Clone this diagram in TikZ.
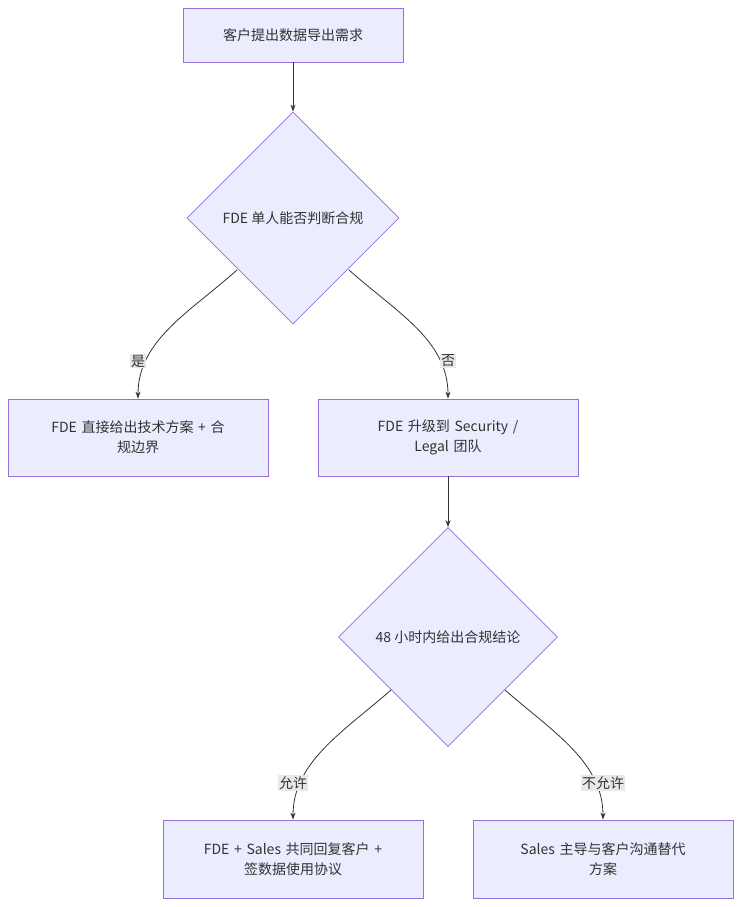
\documentclass[tikz,border=0pt]{standalone}
\usepackage{fontspec}
\setmainfont{Noto Sans CJK SC}
\usetikzlibrary{shapes.geometric,arrows.meta}
\definecolor{nfill}{HTML}{ECECFF}
\definecolor{nstroke}{HTML}{9370DB}
\definecolor{txt}{HTML}{333333}
\definecolor{lbl}{HTML}{E8E8E8}
\begin{document}
\begin{tikzpicture}[x=1pt,y=-1pt,
  every node/.style={font=\fontsize{14}{20}\selectfont,text=txt},
  box/.style={draw=nstroke,fill=nfill,line width=0.8pt,minimum width=260pt,minimum height=77pt,align=center,text width=230pt,inner sep=0pt},
  dia/.style={draw=nstroke,fill=nfill,line width=0.8pt,diamond,aspect=1,inner sep=0pt},
  edge/.style={draw=txt,line width=0.8pt,-{Stealth[length=7pt,width=5pt]}},
  lab/.style={fill=lbl,inner sep=1pt,font=\fontsize{14}{16}\selectfont}]
\useasboundingbox (0,0) rectangle (741,907);
\node[box,minimum width=220pt,minimum height=54pt,text width=200pt] (a) at (293,35) {客户提出数据导出需求};
\node[dia,minimum width=212pt,minimum height=212pt] (b) at (293,218) {FDE 单人能否判断合规};
\node[box] (c) at (138,437.5) {FDE 直接给出技术方案 + 合\\规边界};
\node[box] (d) at (448,437.5) {FDE 升级到 Security /\\Legal 团队};
\node[dia,minimum width=219pt,minimum height=219pt] (e) at (448,637) {48 小时内给出合规结论};
\node[box,minimum height=78pt] (f) at (293,859) {FDE + Sales 共同回复客户 +\\签数据使用协议};
\node[box,minimum height=78pt] (g) at (603,859) {Sales 主导与客户沟通替代\\方案};
\draw[edge] (a) -- (b);
\draw[edge] (d) -- (e);
\coordinate (b1) at (237,270); \coordinate (b2) at (349,270);
\coordinate (e1) at (391,690); \coordinate (e2) at (505,690);
\draw[edge] (b1) .. controls (190,312) and (138,340) .. (c.north);
\draw[edge] (b2) .. controls (396,312) and (448,340) .. (d.north);
\draw[edge] (e1) .. controls (343,732) and (293,762) .. (f.north);
\draw[edge] (e2) .. controls (553,732) and (603,762) .. (g.north);
\node[lab] (l1) at (138,361) {是};
\node[lab] (l2) at (448,361) {否};
\node[lab] (l3) at (293,783) {允许};
\node[lab] (l4) at (603,783) {不允许};
\end{tikzpicture}
\end{document}
